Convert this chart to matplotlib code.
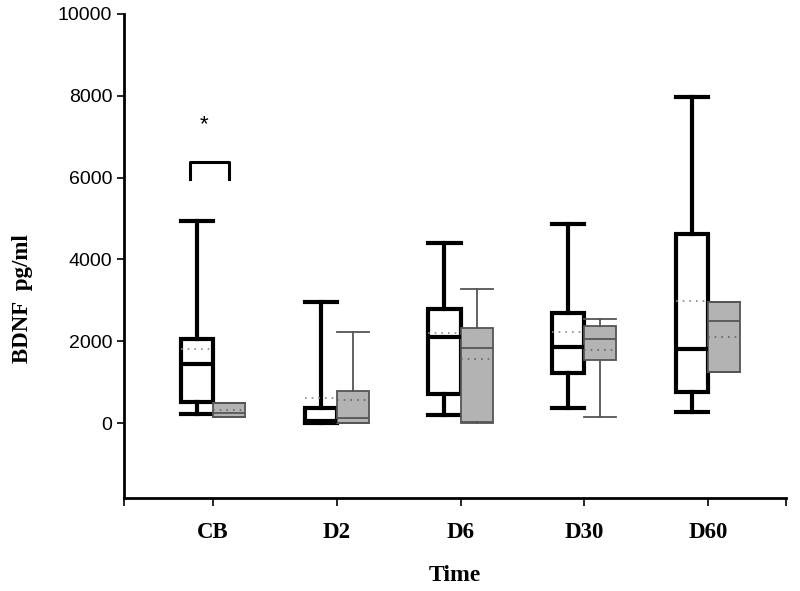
import matplotlib.pyplot as plt
import numpy as np

categories = ['CB', 'D2', 'D6', 'D30', 'D60']

# white (first group) box stats: whisker low, q1, median, q3, whisker high, mean
white_lo = [230, 0, 200, 380, 280]
white_q1 = [520, 30, 710, 1215, 770]
white_med = [1445, 40, 2110, 1860, 1810]
white_q3 = [2055, 370, 2800, 2680, 4620]
white_hi = [4950, 2970, 4390, 4870, 7980]
white_mean = [1810, 610, 2210, 2220, 2990]

# gray (second group) box stats
gray_lo = [155, 0, 0, 155, 1240]
gray_q1 = [155, 0, 30, 1535, 1240]
gray_med = [250, 120, 1825, 2060, 2500]
gray_q3 = [495, 780, 2315, 2365, 2965]
gray_hi = [495, 2225, 3275, 2550, 2965]
gray_mean = [320, 560, 1555, 1785, 2095]

plt.rcParams['font.family'] = ['Liberation Sans', 'DejaVu Sans']

fig = plt.figure(figsize=(8, 5.91), dpi=100)
ax = fig.add_axes([0.155, 0.1574, 0.8275, 0.819])

x = np.arange(len(categories))
w = 0.26


def stats(lo, q1, med, q3, hi, mean):
    return [dict(whislo=a, q1=b, med=c, q3=d, whishi=e, mean=f, fliers=[])
            for a, b, c, d, e, f in zip(lo, q1, med, q3, hi, mean)]


thick = dict(color='black', linewidth=3.0)
ax.bxp(stats(white_lo, white_q1, white_med, white_q3, white_hi, white_mean),
       positions=x - w / 2, widths=w, capwidths=w, patch_artist=True,
       showmeans=True, meanline=True, showfliers=False,
       boxprops=dict(facecolor='white', edgecolor='black', linewidth=3.0),
       medianprops=thick, whiskerprops=thick, capprops=thick,
       meanprops=dict(color='#888888', linestyle=(0, (1, 3)), linewidth=1.2))

thin = dict(color='#555555', linewidth=1.3)
ax.bxp(stats(gray_lo, gray_q1, gray_med, gray_q3, gray_hi, gray_mean),
       positions=x + w / 2, widths=w, capwidths=w, patch_artist=True,
       showmeans=True, meanline=True, showfliers=False,
       boxprops=dict(facecolor='#b3b3b3', edgecolor='#555555', linewidth=1.3),
       medianprops=thin, whiskerprops=thin, capprops=thin,
       meanprops=dict(color='#666666', linestyle=(0, (1, 3)), linewidth=1.2))

# significance bracket on CB
ax.plot([-0.19, -0.19, 0.13, 0.13], [5970, 6380, 6380, 5970], color='black', lw=2.2)
ax.text(-0.07, 7300, '*', ha='center', va='center', fontsize=16)

ax.set_xlim(-0.72, 4.63)
ax.set_ylim(-1830, 10000)
ax.set_xticks(x)
ax.set_xticks([-0.72, 4.63], minor=True)
ax.set_xticklabels(categories, fontfamily='Liberation Serif', fontweight='bold', fontsize=16.5)
ax.set_yticks(np.arange(0, 10001, 2000))
ax.tick_params(axis='y', labelsize=14, length=5, width=1.2)
ax.tick_params(axis='x', which='both', length=6, width=1.2, pad=11)

for s in ['top', 'right']:
    ax.spines[s].set_visible(False)
ax.spines['left'].set_linewidth(2)
ax.spines['bottom'].set_linewidth(2)

ax.set_xlabel('Time', fontfamily='Liberation Serif', fontweight='bold', fontsize=17, labelpad=16)
ax.set_ylabel('BDNF  pg/ml', fontfamily='Liberation Serif', fontweight='bold', fontsize=16.5)
ax.yaxis.set_label_coords(-0.137, 0.413)

fig.savefig('out.png', dpi=100)
